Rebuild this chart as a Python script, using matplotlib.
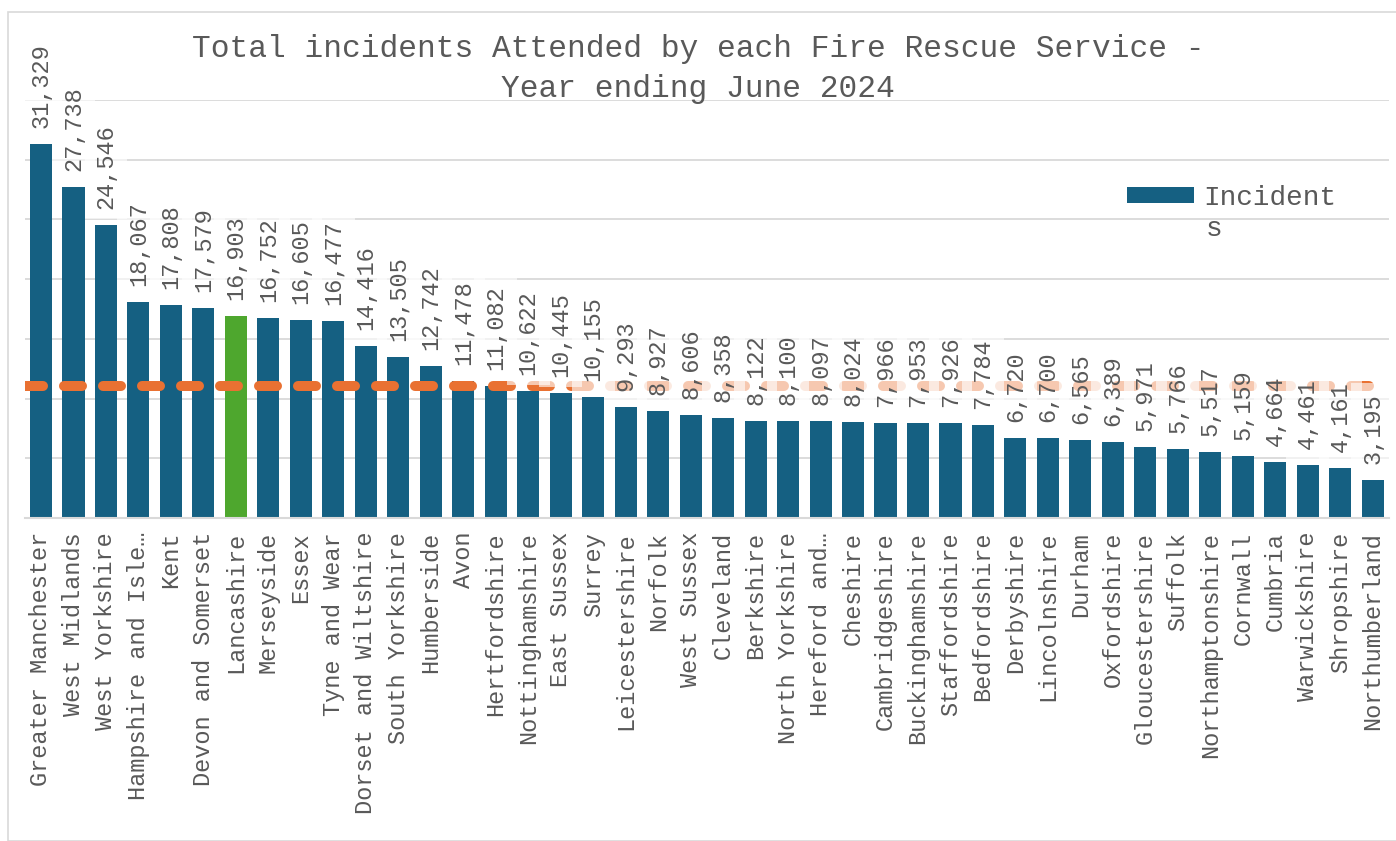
import numpy as np
import matplotlib
matplotlib.use("Agg")
import matplotlib.pyplot as plt
from matplotlib.patches import Rectangle

plt.rcParams['font.family'] = ['Liberation Mono', 'DejaVu Sans Mono']

services = ["Greater Manchester", "West Midlands", "West Yorkshire", "Hampshire and Isle\u2026",
            "Kent", "Devon and Somerset", "Lancashire", "Merseyside", "Essex", "Tyne and Wear",
            "Dorset and Wiltshire", "South Yorkshire", "Humberside", "Avon", "Hertfordshire",
            "Nottinghamshire", "East Sussex", "Surrey", "Leicestershire", "Norfolk", "West Sussex",
            "Cleveland", "Berkshire", "North Yorkshire", "Hereford and\u2026", "Cheshire",
            "Cambridgeshire", "Buckinghamshire", "Staffordshire", "Bedfordshire", "Derbyshire",
            "Lincolnshire", "Durham", "Oxfordshire", "Gloucestershire", "Suffolk",
            "Northamptonshire", "Cornwall", "Cumbria", "Warwickshire", "Shropshire",
            "Northumberland"]
incidents = [31329, 27738, 24546, 18067, 17808, 17579, 16903, 16752, 16605, 16477,
             14416, 13505, 12742, 11478, 11082, 10622, 10445, 10155, 9293, 8927, 8606,
             8358, 8122, 8100, 8097, 8024, 7966, 7953, 7926, 7784, 6720,
             6700, 6565, 6389, 5971, 5766, 5517, 5159, 4664, 4461, 4161,
             3195]
highlight = "Lancashire"
average = np.mean(incidents)

blue = '#156082'
green = '#4EA72E'
orange = '#E97132'
grey = '#595959'

W, H = 1396, 841
fig = plt.figure(figsize=(W/100, H/100), dpi=100)
fig.patches.append(Rectangle((8/W, 0), 1.0, 1-12/H, transform=fig.transFigure,
                             fill=False, ec='#D9D9D9', lw=1.2))

ax = fig.add_axes([24.75/W, 1-518/H, (1389-24.75)/W, 418/H])
x = np.arange(len(services))
colors = [green if s == highlight else blue for s in services]
bars = ax.bar(x, incidents, width=0.68, color=colors, zorder=2, label="Incident")
ax.axhline(average, color=orange, lw=7.2, dashes=(1.8, 2.1), dash_capstyle='round', zorder=3)

for i, v in enumerate(incidents):
    ax.annotate(f"{v:,}", xy=(i, v), xytext=(0, 16), textcoords='offset pixels',
                rotation=90, ha='center', va='bottom', fontsize=17, color=grey, zorder=4,
                bbox=dict(boxstyle='square,pad=0.42', fc='white', ec='none', alpha=0.62))

ax.set_xlim(-0.5, len(services)-0.5)
ax.set_ylim(0, 35000)
ax.set_yticks(np.arange(0, 35001, 5000))
ax.set_yticklabels([])
ax.tick_params(axis='y', length=0)
ax.grid(axis='y', color='#D9D9D9', lw=1.3, zorder=0)
ax.set_axisbelow(True)
for s in ['top', 'right', 'left']:
    ax.spines[s].set_visible(False)
ax.spines['bottom'].set_color('#D9D9D9')
ax.spines['bottom'].set_linewidth(1.5)
ax.set_xticks(x)
ax.set_xticklabels(services, rotation=90, fontsize=17, color=grey)
ax.tick_params(axis='x', length=0, pad=10)

fig.text(0.5, 1-69/H, "Total incidents Attended by each Fire Rescue Service -\nYear ending June 2024",
         ha='center', va='center', fontsize=22.5, color=grey, linespacing=1.4)

ax.legend(handles=[bars], loc='upper left', bbox_to_anchor=(1102/W, 1-160/H),
          bbox_transform=fig.transFigure, frameon=False, fontsize=20, labelcolor=grey,
          handlelength=2.4, handleheight=0.5, handletextpad=0.35)
# the legend label wraps onto a second line in the original
fig.text(1206/W, 1-229/H, "s", ha='left', va='center', fontsize=20, color=grey)

fig.savefig("out.png", dpi=100)
